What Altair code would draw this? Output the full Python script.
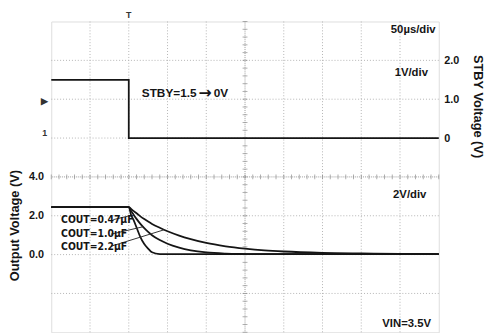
import altair as alt
import pandas as pd

# ---- data ----
# time in µs (50 µs/div, 10 div), output voltages in V (2 V/div)
time_us = [0, 100, 103, 106, 110, 115, 120, 125, 130, 140, 150, 165, 180, 200, 225, 250, 275, 300, 350, 400, 450, 500]
vout_047 = [2.45, 2.45, 2.04, 1.80, 1.40, 0.90, 0.54, 0.31, 0.12, 0.03, 0.02, 0.02, 0.02, 0.02, 0.02, 0.02, 0.02, 0.02, 0.02, 0.02, 0.02, 0.02]
vout_10 = [2.45, 2.45, 2.25, 2.07, 1.84, 1.58, 1.36, 1.17, 1.00, 0.75, 0.56, 0.36, 0.22, 0.11, 0.05, 0.03, 0.02, 0.02, 0.02, 0.02, 0.02, 0.02]
vout_22 = [2.45, 2.45, 2.35, 2.25, 2.13, 1.97, 1.83, 1.70, 1.58, 1.38, 1.20, 0.98, 0.80, 0.60, 0.43, 0.31, 0.22, 0.16, 0.09, 0.06, 0.04, 0.03]
cap_names = ["COUT=0.47µF", "COUT=1.0µF", "COUT=2.2µF"]

stby_time = [0, 100, 100, 500]
stby_v = [1.5, 1.5, 0.0, 0.0]

# graticule (scope divisions)
vgrid_t = [50, 100, 150, 200, 300, 350, 400, 450]
hgrid_v = [-2, 0, 2, 6, 8, 10]
center_t = [250]
center_v = [4]
minor_t = list(range(0, 501, 10))
minor_v = [round(-4 + 0.4 * k, 2) for k in range(0, 41)]

out_ticks = [0, 2, 4]
stby_ticks = [0, 1, 2]

# annotation texts (positions in data units)
note_text = ["50µs/div", "1V/div", "2V/div", "VIN=3.5V"]
note_t = [496, 486, 484, 490]
note_v = [11.55, 9.35, 3.05, -3.6]

stby_parts = ["STBY=1.5", "→", "0V"]
stby_part_t = [116.8, 190.0, 209.5]
stby_part_v = [8.3, 8.3, 8.3]

cout_label_t = [12.7, 12.7, 12.7]
cout_label_v = [1.77, 1.04, 0.41]
leader_t0 = [80, 77, 77]
leader_v0 = [1.80, 1.05, 0.43]
leader_t1 = [103, 118, 145]
leader_v1 = [2.02, 1.43, 1.27]

FONT = "Liberation Sans"
NARROW = "Liberation Sans Narrow, DejaVu Sans Condensed, Liberation Sans"
INK = "#151515"
GRID = "#b4b4b4"

out_rows = []
for name, vals in zip(cap_names, [vout_047, vout_10, vout_22]):
    for i, (t, v) in enumerate(zip(time_us, vals)):
        out_rows.append({"cap": name, "t": t, "v": v, "i": i})
out_df = pd.DataFrame(out_rows)
stby_df = pd.DataFrame({"t": stby_time, "s": stby_v, "i": list(range(len(stby_time)))})

X = alt.X("t:Q", scale=alt.Scale(domain=[0, 500], nice=False, zero=False), axis=None)
Yout = alt.Y(
    "v:Q",
    scale=alt.Scale(domain=[-4, 12], nice=False, zero=False),
    axis=alt.Axis(
        orient="left", values=out_ticks, labelExpr="format(datum.value, '.1f')",
        ticks=False, domain=False, grid=False,
        labelFont=FONT, labelFontSize=11, labelFontWeight="bold", labelColor=INK, labelPadding=8,
        title="Output Voltage (V)", titleFont=FONT, titleFontSize=13, titleFontWeight="bold",
        titleColor=INK, titleX=-37, titleY=207, titleBaseline="middle", titleAlign="center", titleAngle=270,
    ),
)

vgrid = alt.Chart(pd.DataFrame({"t": vgrid_t})).mark_rule(
    color=GRID, strokeDash=[1, 2], strokeWidth=1).encode(x=X)
hgrid = alt.Chart(pd.DataFrame({"v": hgrid_v})).mark_rule(
    color=GRID, strokeDash=[1, 2], strokeWidth=1).encode(y=Yout)
cgrid_v = alt.Chart(pd.DataFrame({"t": center_t})).mark_rule(
    color="#9c9c9c", strokeDash=[1, 1], strokeWidth=1).encode(x=X)
cgrid_h = alt.Chart(pd.DataFrame({"v": center_v})).mark_rule(
    color="#9c9c9c", strokeDash=[1, 1], strokeWidth=1).encode(y=Yout)
ticks_h = alt.Chart(pd.DataFrame({"t": minor_t, "v": [center_v[0]] * len(minor_t)})).mark_tick(
    orient="vertical", size=5, thickness=1, color="#8c8c8c").encode(x=X, y=Yout)
ticks_v = alt.Chart(pd.DataFrame({"t": [center_t[0]] * len(minor_v), "v": minor_v})).mark_tick(
    orient="horizontal", size=5, thickness=1, color="#8c8c8c").encode(x=X, y=Yout)

curves = alt.Chart(out_df).mark_line(color=INK, strokeWidth=1.8, interpolate="monotone").encode(
    x=X, y=Yout, detail="cap:N", order="i:Q")

leader_df = pd.DataFrame({"t": leader_t0, "v": leader_v0, "t2": leader_t1, "v2": leader_v1})
leaders = alt.Chart(leader_df).mark_rule(color="#333", strokeWidth=1).encode(
    x=X, y=Yout, x2="t2:Q", y2="v2:Q")

cout_df = pd.DataFrame({"t": cout_label_t, "v": cout_label_v, "label": cap_names})
cout_text = alt.Chart(cout_df).mark_text(
    align="left", baseline="middle", font=NARROW, fontSize=10.5, fontWeight="bold", color=INK
).encode(x=X, y=Yout, text="label:N")

notes_df = pd.DataFrame({"t": note_t, "v": note_v, "label": note_text})
notes = alt.Chart(notes_df).mark_text(
    align="right", baseline="middle", font=FONT, fontSize=11.5, fontWeight="bold", color=INK
).encode(x=X, y=Yout, text="label:N")

stby_df_txt = pd.DataFrame({"t": stby_part_t, "v": stby_part_v, "label": stby_parts})
stby_note = alt.Chart(stby_df_txt.iloc[[0, 2]]).mark_text(
    align="left", baseline="middle", font=FONT, fontSize=12, fontWeight="bold", color=INK
).encode(x=X, y=Yout, text="label:N")
stby_arrow = alt.Chart(stby_df_txt.iloc[[1]]).mark_text(
    align="left", baseline="middle", font="DejaVu Sans", fontSize=16, fontWeight="bold", color=INK
).encode(x=X, y=Yout, text="label:N")

markers = alt.Chart(pd.DataFrame({
    "t": [100, -8.5, -8.5],
    "v": [12.33, 7.9, 6.25],
    "label": ["T", "▶", "1"],
})).mark_text(align="center", baseline="middle", font=FONT, fontSize=9, fontWeight="bold", color="#333").encode(
    x=X, y=Yout, text="label:N")

left = alt.layer(vgrid, hgrid, cgrid_v, cgrid_h, ticks_h, ticks_v, curves, leaders,
                 cout_text, notes, stby_note, stby_arrow, markers)

stby = alt.Chart(stby_df).mark_line(color=INK, strokeWidth=1.8).encode(
    x=X,
    y=alt.Y(
        "s:Q",
        scale=alt.Scale(domain=[-5, 3], nice=False, zero=False),
        axis=alt.Axis(
            orient="right", values=stby_ticks,
            labelExpr="datum.value == 0 ? '0' : format(datum.value, '.1f')",
            ticks=False, domain=False, grid=False,
            labelFont=FONT, labelFontSize=11, labelFontWeight="bold", labelColor=INK, labelPadding=5,
            title="STBY Voltage (V)", titleFont=FONT, titleFontSize=13, titleFontWeight="bold",
            titleColor=INK, titleX=39, titleY=86, titleBaseline="middle", titleAlign="center", titleAngle=90,
        ),
    ),
    order="i:Q",
)

chart = alt.layer(left, stby).resolve_scale(y="independent").properties(
    width=394, height=316,
    autosize=alt.AutoSizeParams(type="none"),
    padding={"left": 44, "top": 11, "right": 46, "bottom": 0},
).configure_view(stroke="#9a9a9a", strokeWidth=2).configure(background="white")

chart.save("out.html", embed_options={"renderer": "svg", "actions": False})
